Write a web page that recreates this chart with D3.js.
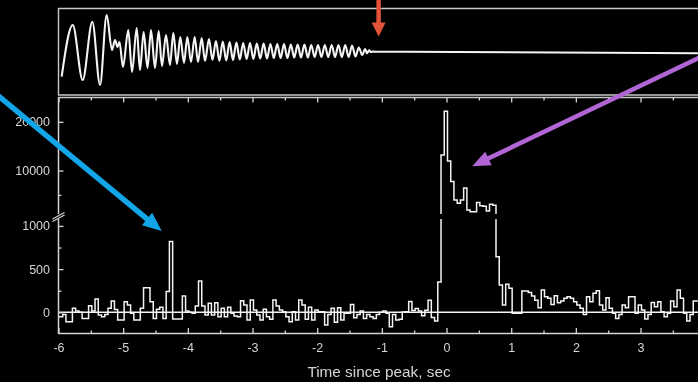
<!DOCTYPE html>
<html>
<head>
<meta charset="utf-8">
<script src="https://cdn.jsdelivr.net/npm/d3@7/dist/d3.min.js"></script>
<style>
  html, body { margin: 0; padding: 0; background: #000; }
  svg { display: block; }
  text { font-family: "Liberation Sans", Arial, sans-serif; }
  .label-layer { opacity: 0.99; will-change: transform; }
</style>
</head>
<body>
<svg id="chart" width="698" height="382"></svg>
<script>
// ---- Light curve: counts per 50 ms bin, background subtracted ----
const binStart = -6.035;
const binWidth = 0.05;
const counts = [
  -50, -50, -25, -108, -108, 46, 15, 0, -70, -70,
  77, 15, 154, -31, -50, -25, 46, 131, 34, -89,
  -89, 123, 85, -12, -89, -89, 46, 285, 285, 123,
  -70, 35, 58, -70, 240, 820, -77, -77, -77, 190,
  15, 0, -12, 73, 363, 73, -30, 104, -30, 112,
  -50, 46, -50, 58, -12, -42, -50, 135, 85, -89,
  143, 27, -30, -89, 35, -50, -81, 143, 73, 27,
  8, -50, -108, 8, -89, 143, 85, -81, 58, -89,
  27, 7, 7, -147, -24, 46, -116, 54, -89, -12,
  -12, 92, -62, -24, 15, -70, -24, -50, -70, -24,
  0, 15, -12, -166, -24, -89, -80, 5, 7, 125,
  20, 45, 15, -40, 25, 140, -60, -100, 350, 13200,
  22200, 11960, 7770, 3955, 3280, 3955, 6400, 1900, 1550, 1550,
  3450, 2800, 2650, 1700, 3100, 2900, 644, 316, 85, 324,
  278, -12, -12, -12, 247, 247, 230, 190, 140, 54,
  258, 181, 162, 92, 193, 110, 131, 162, 181, 162,
  123, 85, 46, -24, 181, 123, 220, 250, 85, 27,
  170, 46, -12, -70, -24, 85, 54, 181, 181, -12,
  85, 27, -78, -24, 115, 65, 123, 7, -50, -12,
  131, 65, 258, 162, -12, -100, -24, 131, 131
];

// ---- Gravitational-wave strain: successive extrema (time in s, relative strain) ----
const waveTime = [
  -5.951, -5.780, -5.626, -5.477, -5.358, -5.255, -5.173, -5.126, -5.088, -5.057,
  -5.003, -4.921, -4.863, -4.791, -4.740, -4.683, -4.624, -4.570, -4.508, -4.451,
  -4.400, -4.338, -4.276, -4.225, -4.168, -4.117, -4.059, -4.008, -3.951, -3.894,
  -3.843, -3.786, -3.735, -3.673, -3.619, -3.565, -3.512, -3.460, -3.407, -3.354,
  -3.302, -3.249, -3.197, -3.144, -3.091, -3.039, -2.986, -2.934, -2.881, -2.828,
  -2.776, -2.723, -2.671, -2.618, -2.565, -2.513, -2.460, -2.408, -2.355, -2.302,
  -2.250, -2.197, -2.145, -2.092, -2.039, -1.987, -1.934, -1.882, -1.829, -1.776,
  -1.724, -1.671, -1.619, -1.566, -1.513, -1.461, -1.408, -1.356, -1.303, -1.260,
  -1.229, -1.198, -1.167, -1.136, -1.105, -1.059, 3.950
];
const waveStrain = [
  -0.70, 0.736, -0.792, 0.828, -0.931, 1.014, 0.042, 0.319, 0.125, 0.264,
  -0.431, 0.597, -0.569, 0.653, -0.514, 0.542, -0.458, 0.597, -0.458, 0.569,
  -0.403, 0.458, -0.375, 0.514, -0.347, 0.403, -0.319, 0.403, -0.292, 0.403,
  -0.292, 0.375, -0.264, 0.347, -0.236, 0.292, -0.264, 0.278, -0.25, 0.264,
  -0.236, 0.25, -0.222, 0.236, -0.208, 0.236, -0.208, 0.222, -0.194, 0.222,
  -0.194, 0.208, -0.181, 0.208, -0.181, 0.208, -0.181, 0.194, -0.167, 0.194,
  -0.167, 0.194, -0.167, 0.181, -0.153, 0.181, -0.153, 0.181, -0.153, 0.181,
  -0.153, 0.181, -0.153, 0.181, -0.153, 0.167, -0.139, 0.11, -0.10, 0.07,
  -0.05, 0.03, -0.015, 0.0, -0.006, -0.006, -0.05
];

// ---- Axis ticks ----
const xMajorTicks = [-6, -5, -4, -3, -2, -1, 0, 1, 2, 3];
const xMinorTicks = [-5.5, -4.5, -3.5, -2.5, -1.5, -0.5, 0.5, 1.5, 2.5, 3.5];
const yLowMajor = [0, 500, 1000];
const yLowMinor = [250, 750];
const yHighMajor = [10000, 20000];
const yHighMinor = [5000];

// ---- Annotation arrows: tip in data coordinates, tail offset in px ----
const arrowMerger = { t: -1.05, colour: "#e2533a" };
const arrowPrecursor = { t: -4.404, v: 940, colour: "#12a6e8" };
const arrowBurst = { t: 0.397, v: 10900, colour: "#b266d6" };

const svg = d3.select("#chart");
const W = 698, H = 382;
const left = 58.5, right = W;
const axisCol = "#d4d4d4", lineCol = "#f4f4f4", labelCol = "#d8d8d8";

svg.append("rect").attr("width", W).attr("height", H).attr("fill", "#000");

const x = d3.scaleLinear().domain([-6, 4]).range([58.5, 705.2]);
// broken count axis: linear below the break, compressed linear above it
const y = d3.scaleLinear().domain([-245, 1080, 1081, 25100]).range([333.5, 219, 214, 97]);
const ys = d3.scaleLinear().domain([-1, 1]).range([87.5, 15.5]);

const defs = svg.append("defs");
defs.append("clipPath").attr("id", "clipLow")
  .append("rect").attr("x", left).attr("y", 97).attr("width", right - left).attr("height", 236.5);
defs.append("clipPath").attr("id", "clipTop")
  .append("rect").attr("x", left).attr("y", 8).attr("width", right - left).attr("height", 87);

// ---- Top panel: strain waveform ----
const gTop = svg.append("g");
gTop.append("path")
  .attr("d", `M${W + 2},8.5 H${left} V95 H${W + 2}`)
  .attr("fill", "none").attr("stroke", "#c8c8c8").attr("stroke-width", 1.4);

const wave = waveTime.map((t, i) => [t, waveStrain[i]]);
gTop.append("path")
  .datum(wave)
  .attr("clip-path", "url(#clipTop)")
  .attr("fill", "none")
  .attr("stroke", lineCol)
  .attr("stroke-width", 2.1)
  .attr("stroke-linejoin", "round")
  .attr("d", d3.line().x(d => x(d[0])).y(d => ys(d[1])).curve(d3.curveMonotoneX));

// ---- Lower panel: light curve ----
const gLow = svg.append("g");
const steps = counts.map((v, i) => [binStart + i * binWidth, v]);
steps.push([binStart + counts.length * binWidth, counts[counts.length - 1]]);

gLow.append("line")
  .attr("x1", left).attr("x2", right)
  .attr("y1", y(0)).attr("y2", y(0))
  .attr("stroke", lineCol).attr("stroke-width", 1.5);

gLow.append("path")
  .datum(steps)
  .attr("clip-path", "url(#clipLow)")
  .attr("fill", "none")
  .attr("stroke", lineCol)
  .attr("stroke-width", 1.5)
  .attr("d", d3.line().x(d => x(d[0])).y(d => y(d[1])).curve(d3.curveStepAfter));

// gap of the axis break
gLow.append("rect").attr("x", left - 8).attr("y", 214).attr("width", right - left + 8).attr("height", 5)
  .attr("fill", "#000");

// ---- Axes ----
function styleAxis(g) {
  g.select(".domain").remove();
  g.selectAll(".tick line").attr("stroke", axisCol).attr("stroke-width", 1.3);
  g.selectAll("text").attr("class", "label-layer").attr("fill", labelCol).style("font-size", "12.5px");
}
const plainFormat = d => String(d);

// bottom axis
const gxb = svg.append("g").attr("transform", "translate(0,333.5)");
gxb.append("line").attr("x1", left).attr("x2", right).attr("stroke", axisCol).attr("stroke-width", 1.5);
gxb.append("g").call(d3.axisBottom(x).tickValues(xMajorTicks).tickSize(-5.5).tickPadding(9.5)
  .tickFormat(plainFormat)).call(styleAxis);
gxb.append("g").call(d3.axisBottom(x).tickValues(xMinorTicks).tickSize(-3).tickFormat(""))
  .call(styleAxis);

// top axis of the lower panel
const gxt = svg.append("g").attr("transform", "translate(0,97.5)");
gxt.append("line").attr("x1", left).attr("x2", right).attr("stroke", "#c8c8c8").attr("stroke-width", 1.4);
gxt.append("g").call(d3.axisTop(x).tickValues(xMajorTicks.concat([4])).tickSize(-5).tickFormat(""))
  .call(styleAxis);
gxt.append("g").call(d3.axisTop(x).tickValues(xMinorTicks).tickSize(-3).tickFormat(""))
  .call(styleAxis);

// left axis, broken
const gy = svg.append("g").attr("transform", `translate(${left},0)`);
gy.append("line").attr("y1", 97).attr("y2", 214).attr("stroke", axisCol).attr("stroke-width", 1.5);
gy.append("line").attr("y1", 219).attr("y2", 334).attr("stroke", axisCol).attr("stroke-width", 1.5);
gy.append("g").call(d3.axisLeft(y).tickValues(yLowMajor.concat(yHighMajor)).tickSize(-5).tickPadding(8.5)
  .tickFormat(plainFormat)).call(styleAxis);
gy.append("g").call(d3.axisLeft(y).tickValues(yLowMinor.concat(yHighMinor)).tickSize(-3).tickFormat(""))
  .call(styleAxis);
// break marks
gy.append("line").attr("x1", -6).attr("y1", 219).attr("x2", 6).attr("y2", 212.5)
  .attr("stroke", axisCol).attr("stroke-width", 1.3);
gy.append("line").attr("x1", -6).attr("y1", 221.5).attr("x2", 6).attr("y2", 215)
  .attr("stroke", axisCol).attr("stroke-width", 1.3);

// axis title
svg.append("text")
  .attr("class", "label-layer")
  .attr("x", 379).attr("y", 377)
  .attr("text-anchor", "middle")
  .attr("fill", labelCol)
  .style("font-size", "15.3px")
  .text("Time since peak, sec");

// ---- Arrows ----
function arrow(x1, y1, x2, y2, colour, shaft, headLen, headHalf) {
  const dx = x2 - x1, dy = y2 - y1, len = Math.hypot(dx, dy);
  const ux = dx / len, uy = dy / len, px = -uy, py = ux;
  const bx = x2 - ux * headLen, by = y2 - uy * headLen;
  svg.append("line")
    .attr("x1", x1).attr("y1", y1).attr("x2", bx + ux * 1).attr("y2", by + uy * 1)
    .attr("stroke", colour).attr("stroke-width", shaft);
  svg.append("path")
    .attr("d", `M${x2},${y2} L${bx + px * headHalf},${by + py * headHalf} L${bx - px * headHalf},${by - py * headHalf} Z`)
    .attr("fill", colour);
}

arrow(x(arrowMerger.t), -2, x(arrowMerger.t), 36.5, arrowMerger.colour, 4.5, 14, 7);
{
  const tx = x(arrowPrecursor.t), ty = y(arrowPrecursor.v);
  arrow(tx - 166.7, ty - 138, tx, ty, arrowPrecursor.colour, 5.5, 19, 8);
}
{
  const tx = x(arrowBurst.t), ty = y(arrowBurst.v);
  arrow(tx + 233.3, ty - 111.5, tx, ty, arrowBurst.colour, 4.5, 18, 7.5);
}
</script>
</body>
</html>
